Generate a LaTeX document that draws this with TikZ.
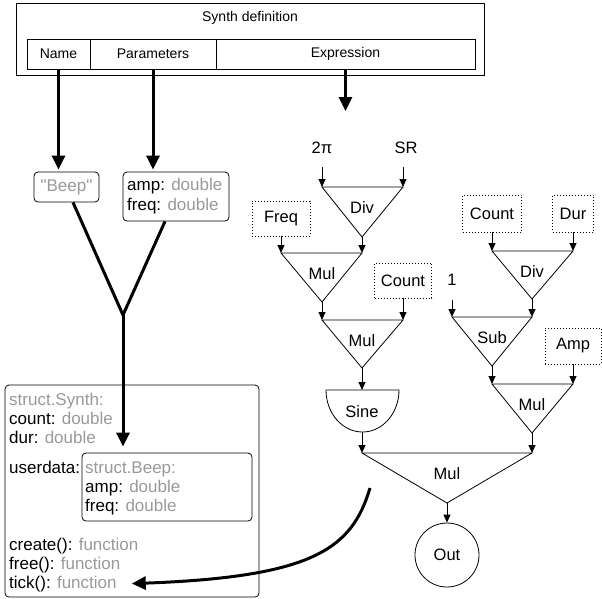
\documentclass[tikz,border=0pt]{standalone}
\usepackage{fontspec}
\setmainfont{Liberation Sans}[Ligatures=TeXOff]
\usetikzlibrary{arrows.meta,calc}
\definecolor{txtgray}{gray}{0.6}
\newcommand\mytri[7]{%
  \coordinate (#1-l) at (#2,#4);
  \coordinate (#1-r) at (#3,#4);
  \coordinate (#1-b) at (#5,#6);
  \draw[tri] (#1-l) -- (#1-r) -- (#1-b) -- cycle;
  \node[lbl] (#1) at (#5,#4+21) {#7};
}
\begin{document}
\begin{tikzpicture}[x=1pt,y=-1pt,
  box/.style={draw, line width=0.8pt, inner sep=0pt},
  toptxt/.style={font=\fontsize{14}{16}\selectfont},
  tri/.style={draw, line width=0.8pt, line join=miter},
  lbl/.style={font=\fontsize{16.5}{18}\selectfont, inner sep=0pt},
  txt/.style={font=\fontsize{17}{19}\selectfont, inner sep=0pt, anchor=base west},
  arr/.style={line width=0.9pt, -{Triangle[length=8pt,width=7pt]}},
  bigarr/.style={line width=3pt, -{Triangle[length=14pt,width=13pt]}},
  bigline/.style={line width=3pt, line join=miter},
  dotbox/.style={draw, dash pattern=on 1pt off 2pt, line width=0.9pt, inner sep=0pt, font=\fontsize{16.5}{18}\selectfont},
  rbox/.style={draw, rounded corners=4pt, line width=0.8pt, inner sep=0pt}
]
\useasboundingbox (0,0) rectangle (602,598);

% ---- Synth definition header
\node[box, minimum width=468pt, minimum height=72pt] (synth) at (250,39) {};
\node[toptxt] (title) at (250,18) {Synth definition};
\node[box, toptxt, minimum width=63pt, minimum height=30pt] (namecell) at (58.5,54) {Name};
\node[box, toptxt, minimum width=126pt, minimum height=30pt] (paramcell) at (153,54) {Parameters};
\node[box, toptxt, minimum width=259pt, minimum height=30pt] (exprcell) at (345.5,54) {Expression};

% ---- name / params boxes
\node[rbox, minimum width=65pt, minimum height=30pt, text=txtgray, font=\fontsize{17}{19}\selectfont] (beep) at (66.5,187) {"Beep"};
\node[rbox, minimum width=106pt, minimum height=49pt] (params) at (176,196.5) {};
\node[txt] (pamp) at (127,190) {amp: \textcolor{txtgray}{double}};
\node[txt] (pfreq) at (127,210) {freq: \textcolor{txtgray}{double}};

\draw[bigarr, shorten >=2pt] (namecell.south) -- (namecell.south |- beep.north);
\draw[bigarr, shorten >=2pt] (paramcell.south) -- (paramcell.south |- params.north);
\coordinate (exprend) at (345.5,111);
\draw[bigarr] (exprcell.south) -- (exprend);

% ---- struct boxes
\node[rbox, minimum width=254pt, minimum height=212pt] (synthstruct) at (132,491) {};
\node[rbox, minimum width=170pt, minimum height=68pt] (sb) at (167,487) {};
\node[txt, text=txtgray] (s1) at (9,405) {struct.Synth:};
\node[txt] (s2) at (9,424) {count: \textcolor{txtgray}{double}};
\node[txt] (s3) at (9,443) {dur: \textcolor{txtgray}{double}};
\node[txt] (s4) at (9,473) {userdata:};
\node[txt, text=txtgray] (b1) at (85,473) {struct.Beep:};
\node[txt] (b2) at (85,492) {amp: \textcolor{txtgray}{double}};
\node[txt] (b3) at (85,511) {freq: \textcolor{txtgray}{double}};
\node[txt] (f1) at (9,550) {create(): \textcolor{txtgray}{function}};
\node[txt] (f2) at (9,569) {free(): \textcolor{txtgray}{function}};
\node[txt] (tick) at (9,588) {tick(): \textcolor{txtgray}{function}};

% ---- merge into struct
\coordinate (j) at (123,315);
\draw[bigline] ([xshift=6.5pt]beep.south) -- (j) -- ([xshift=-11pt]params.south);
\draw[bigarr, shorten >=6pt] (j) -- (j |- sb.north);

% ---- expression graph (left)
\node[lbl] (twopi) at (322,148) {2π};
\node[lbl] (sr) at (406,148) {SR};
\mytri{div1}{322}{403}{187}{362}{237}{Div}
\draw[arr, shorten <=13pt] (twopi.south) -- (div1-l);
\draw[arr, shorten <=13pt] (sr.south -| div1-r) -- (div1-r);

\node[dotbox, minimum width=58pt, minimum height=35pt] (freq) at (281,218.5) {Freq};
\mytri{mul1}{281}{362}{253}{322}{302}{Mul}
\draw[arr] (freq) -- (mul1-l);
\draw[arr] (div1-b) -- (mul1-r);

\node[dotbox, minimum width=57pt, minimum height=35pt] (count1) at (403,280.5) {Count};
\mytri{mul2}{322}{403}{320}{362}{368}{Mul}
\draw[arr] (mul1-b) -- (mul2-l);
\draw[arr] (count1) -- (mul2-r);

\coordinate (sine-t) at (362,390);
\coordinate (sine-b) at (362,432);
\draw[tri] (326,390) -- (399,390) arc[start angle=0, end angle=-180, x radius=36.5pt, y radius=42pt] -- cycle;
\node[lbl] (sine) at (362,412) {Sine};
\draw[arr] (mul2-b) -- (sine-t);

% ---- expression graph (right)
\node[dotbox, minimum width=59pt, minimum height=37pt] (count2) at (492,213.5) {Count};
\node[dotbox, minimum width=41pt, minimum height=37pt] (dur) at (573,213.5) {Dur};
\mytri{div2}{492}{573}{251}{532}{299}{Div}
\draw[arr] (count2) -- (div2-l);
\draw[arr] (dur) -- (div2-r);

\node[lbl] (one) at (452,280) {1};
\mytri{sub}{452}{532}{317}{492}{366}{Sub}
\draw[arr, shorten <=14pt] (one.south) -- (sub-l);
\draw[arr] (div2-b) -- (sub-r);

\node[dotbox, minimum width=56pt, minimum height=36pt] (amp) at (573,346) {Amp};
\mytri{mul3}{492}{573}{384}{532}{433}{Mul}
\draw[arr] (sub-b) -- (mul3-l);
\draw[arr] (amp) -- (mul3-r);

% ---- final mul and out
\mytri{mul4}{362}{532}{453}{447}{503}{Mul}
\draw[arr] (sine-b) -- (mul4-l);
\draw[arr] (mul3-b) -- (mul4-r);
\node[draw, circle, line width=0.8pt, minimum size=64pt, lbl] (out) at (447,555) {Out};
\draw[arr] (mul4-b) -- (out);

% ---- curved arrow to tick()
\coordinate (cstart) at (370,488);
\draw[bigarr] (cstart) .. controls (352,548) and (315,577) .. ([xshift=15pt]tick.east);
\end{tikzpicture}
\end{document}
